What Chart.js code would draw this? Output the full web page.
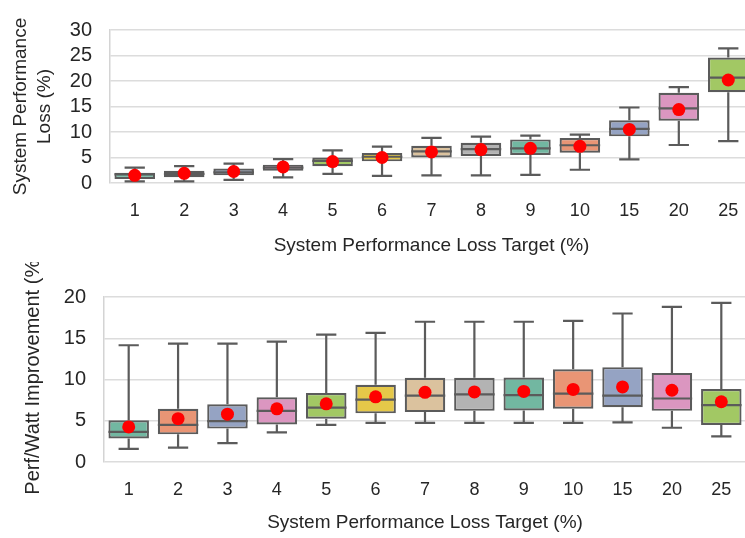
<!DOCTYPE html>
<html>
<head>
<meta charset="utf-8">
<script src="https://cdn.jsdelivr.net/npm/chart.js@4/dist/chart.umd.min.js"></script>
<style>
  html, body { margin: 0; padding: 0; background: #fff; overflow: hidden; }
  #wrap { position: relative; width: 760px; height: 538px; }
  canvas { position: absolute; left: 0; }
  #lossChart { top: 0; }
  #ppwChart { top: 262px; }
</style>
</head>
<body>
<div id="wrap">
  <canvas id="lossChart" width="760" height="262"></canvas>
  <canvas id="ppwChart" width="760" height="276"></canvas>
</div>
<script>
// Cibles de perte de performance (axe x commun)
const categories = ['1', '2', '3', '4', '5', '6', '7', '8', '9', '10', '15', '20', '25'];

// Graphique du haut : perte de performance système (%)
const lossMin    = [0.3, 0.3, 0.6, 1.1, 1.8, 1.4, 1.5, 1.5, 1.6, 2.6, 4.65, 7.45, 8.2];
const lossQ1     = [0.8, 1.15, 1.5, 2.4, 3.3, 4.25, 5.0, 5.3, 5.5, 5.95, 9.15, 12.2, 17.8];
const lossMedian = [1.7, 1.8, 2.1, 3.0, 4.35, 5.15, 6.2, 6.65, 6.8, 7.4, 10.6, 14.65, 20.65];
const lossQ3     = [2.0, 2.4, 2.85, 3.6, 5.0, 5.9, 7.3, 7.9, 8.55, 8.8, 12.3, 17.7, 24.6];
const lossMax    = [3.0, 3.3, 3.8, 4.7, 6.4, 7.15, 8.85, 9.1, 9.3, 9.5, 14.8, 18.8, 26.4];
const lossMean   = [1.5, 1.9, 2.25, 3.15, 4.2, 5.0, 6.1, 6.55, 6.8, 7.2, 10.5, 14.4, 20.2];

// Graphique du bas : amélioration Perf/Watt (%)
const ppwMin    = [1.6, 1.75, 2.3, 3.6, 4.5, 4.75, 4.75, 4.75, 4.75, 4.75, 4.8, 4.15, 3.1];
const ppwQ1     = [2.85, 3.35, 4.05, 4.55, 5.25, 5.9, 6.05, 6.2, 6.25, 6.45, 6.65, 6.2, 4.5];
const ppwMedian = [3.65, 4.5, 4.95, 6.2, 6.6, 7.55, 8.05, 8.2, 8.1, 8.3, 8.05, 7.7, 6.9];
const ppwQ3     = [5.05, 6.45, 7.0, 7.85, 8.35, 9.35, 10.2, 10.2, 10.25, 11.25, 11.5, 10.8, 8.85];
const ppwMax    = [14.15, 14.35, 14.35, 14.6, 15.45, 15.65, 17.0, 17.0, 17.0, 17.1, 18.0, 18.8, 19.3];
const ppwMean   = [4.25, 5.25, 5.8, 6.45, 7.05, 7.9, 8.45, 8.5, 8.55, 8.8, 9.1, 8.7, 7.3];

// Palette Set2 désaturée (style seaborn)
const palette = ['#72b7a1', '#e99575', '#95a3c3', '#db96c0', '#a2c864', '#e5c849', '#dbc29e', '#b3b3b3'];
const boxColors = categories.map((c, i) => palette[i % palette.length]);

const LINE = '#5b5b5b';
const FONT = '"Liberation Sans", Arial, sans-serif';
const TEXT = '#262626';

/**
 * Plugin : moustaches, capuchons et médianes des boîtes
 * Les positions passent par les échelles du graphique
 */
const boxWhiskers = {
    id: 'boxWhiskers',
    beforeDatasetDraw(chart, args, opts) {
        if (args.index !== 0) return;
        const { ctx, scales: { x, y } } = chart;
        const bars = chart.getDatasetMeta(0).data;
        ctx.save();
        ctx.strokeStyle = LINE;
        ctx.lineWidth = 2.2;
        ctx.lineCap = 'butt';
        bars.forEach((bar, i) => {
            const cx = x.getPixelForValue(i);
            const half = bar.width / 4;
            const yMin = y.getPixelForValue(opts.min[i]);
            const yMax = y.getPixelForValue(opts.max[i]);
            const yQ1 = y.getPixelForValue(opts.q1[i]);
            const yQ3 = y.getPixelForValue(opts.q3[i]);
            ctx.beginPath();
            ctx.moveTo(cx, yQ3); ctx.lineTo(cx, yMax);
            ctx.moveTo(cx, yQ1); ctx.lineTo(cx, yMin);
            ctx.moveTo(cx - half, yMax); ctx.lineTo(cx + half, yMax);
            ctx.moveTo(cx - half, yMin); ctx.lineTo(cx + half, yMin);
            ctx.stroke();
        });
        ctx.restore();
    },
    afterDatasetDraw(chart, args, opts) {
        if (args.index !== 0) return;
        const { ctx, scales: { x, y } } = chart;
        const bars = chart.getDatasetMeta(0).data;
        ctx.save();
        ctx.strokeStyle = LINE;
        ctx.lineWidth = 2.2;
        bars.forEach((bar, i) => {
            const cx = x.getPixelForValue(i);
            const half = bar.width / 2;
            const yMed = y.getPixelForValue(opts.median[i]);
            ctx.beginPath();
            ctx.moveTo(cx - half, yMed); ctx.lineTo(cx + half, yMed);
            ctx.stroke();
        });
        ctx.restore();
    }
};

function createBoxChart(canvasId, stats, cfg) {
    const ctx = document.getElementById(canvasId);
    return new Chart(ctx, {
        type: 'bar',
        data: {
            labels: categories,
            datasets: [{
                data: stats.q1.map((v, i) => [v, stats.q3[i]]),
                backgroundColor: boxColors,
                borderColor: LINE,
                borderWidth: 2.2,
                borderSkipped: false,
                barPercentage: 0.82,
                categoryPercentage: 1,
                order: 1
            }, {
                type: 'line',
                data: stats.mean,
                showLine: false,
                pointRadius: 6.5,
                pointBackgroundColor: '#ff0000',
                pointBorderWidth: 0,
                order: 0
            }]
        },
        options: {
            responsive: false,
            animation: false,
            devicePixelRatio: 1,
            layout: { padding: cfg.padding },
            plugins: {
                legend: { display: false },
                tooltip: { enabled: false },
                boxWhiskers: stats
            },
            scales: {
                x: {
                    grid: { display: false },
                    border: { display: false },
                    ticks: { color: TEXT, font: { family: FONT, size: 18 }, padding: 9 },
                    title: {
                        display: true,
                        text: 'System Performance Loss Target (%)',
                        color: TEXT,
                        font: { family: FONT, size: 19 },
                        padding: { top: 0, bottom: cfg.xTitlePad }
                    },
                    afterFit: (s) => { s.height = cfg.xHeight; }
                },
                y: {
                    min: 0,
                    max: cfg.yMax,
                    ticks: { stepSize: 5, autoSkip: false, color: TEXT, font: { family: FONT, size: 20 }, padding: 18 },
                    grid: { color: '#dcdcdc', lineWidth: 1.5, drawTicks: false },
                    border: { display: true, color: '#d4d4d4', width: 1.5 },
                    title: {
                        display: true,
                        text: cfg.yTitle,
                        color: TEXT,
                        font: { family: FONT, size: cfg.yTitleSize, lineHeight: 1.25 },
                        padding: { top: cfg.yTitlePad, bottom: 0 }
                    },
                    afterFit: (s) => { s.width = cfg.yWidth; }
                }
            }
        },
        plugins: [boxWhiskers]
    });
}

createBoxChart('lossChart',
    { min: lossMin, q1: lossQ1, median: lossMedian, q3: lossQ3, max: lossMax, mean: lossMean },
    {
        padding: { left: 0, right: 7, top: 18, bottom: 0 },
        yMax: 30,
        yTitle: ['System Performance', 'Loss (%)'],
        yTitleSize: 19,
        yTitlePad: 9,
        yWidth: 110,
        xHeight: 79,
        xTitlePad: 5
    });

// le titre y du bas est rogné en haut, comme dans la figure d'origine
createBoxChart('ppwChart',
    { min: ppwMin, q1: ppwQ1, median: ppwMedian, q3: ppwQ3, max: ppwMax, mean: ppwMean },
    {
        padding: { left: 0, right: 14, top: 35, bottom: 0 },
        yMax: 20,
        yTitle: '  Perf/Watt Improvement (%)',
        yTitleSize: 20,
        yTitlePad: 21,
        yWidth: 104,
        xHeight: 76,
        xTitlePad: 4
    });
</script>
</body>
</html>
